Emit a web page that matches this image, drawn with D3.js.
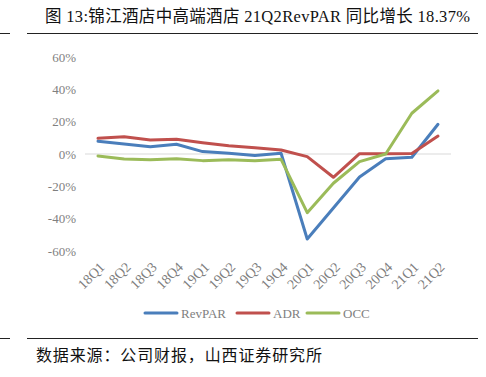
<!DOCTYPE html>
<html><head><meta charset="utf-8">
<script src="https://cdn.jsdelivr.net/npm/d3@7"></script>
<style>
html,body{margin:0;padding:0;background:#fff;}
svg{display:block;}
</style></head>
<body>
<svg id="c" width="486" height="377"></svg>
<script>
const categories = ["18Q1","18Q2","18Q3","18Q4","19Q1","19Q2","19Q3","19Q4","20Q1","20Q2","20Q3","20Q4","21Q1","21Q2"];
const revpar = [7.9, 6.2, 4.5, 6.0, 1.5, 0.4, -1.0, 0.5, -52.6, -33.4, -14.2, -3.0, -2.0, 18.37];
const adr = [9.7, 10.7, 8.7, 9.1, 7.0, 5.1, 3.9, 2.5, -1.6, -14.4, 0.2, 0.2, 0.3, 11.1];
const occ = [-1.2, -3.1, -3.5, -3.0, -4.1, -3.5, -4.1, -3.3, -36.3, -18.1, -4.7, 0.0, 25.2, 39.0];
const yTicks = [-60, -40, -20, 0, 20, 40, 60];
const seriesNames = ["RevPAR", "ADR", "OCC"];
const seriesColors = ["#4A7EBB", "#C0504D", "#9BBB59"];
const title = "图 13:锦江酒店中高端酒店 21Q2RevPAR 同比增长 18.37%";
const source = "数据来源：公司财报，山西证券研究所";

const svg = d3.select("#c");
const serif = "'Liberation Serif','Noto Sans CJK SC',serif";
const cjk = "'Noto Sans CJK SC','Liberation Serif',sans-serif";

// title
svg.append("text").attr("x", 45).attr("y", 22).attr("font-family", serif)
  .attr("font-size", 16.5).attr("fill", "#111")
  .attr("textLength", 425).attr("lengthAdjust", "spacing").text(title);
svg.append("line").attr("x1", 27).attr("x2", 478).attr("y1", 33.5).attr("y2", 33.5).attr("stroke", "#222").attr("stroke-width", 1);
svg.append("line").attr("x1", 0).attr("x2", 10).attr("y1", 33.5).attr("y2", 33.5).attr("stroke", "#222").attr("stroke-width", 1);
svg.append("line").attr("x1", 27).attr("x2", 478).attr("y1", 338.5).attr("y2", 338.5).attr("stroke", "#222").attr("stroke-width", 1);
svg.append("line").attr("x1", 0).attr("x2", 10).attr("y1", 338.5).attr("y2", 338.5).attr("stroke", "#222").attr("stroke-width", 1);
svg.append("text").attr("x", 36).attr("y", 361).attr("font-family", cjk)
  .attr("font-size", 16).attr("fill", "#111")
  .attr("textLength", 286).attr("lengthAdjust", "spacing").text(source);

const x = d3.scalePoint().domain(categories).range([98, 438]);
const y = d3.scaleLinear().domain([-60, 60]).range([251, 57]);

// y axis labels
const yAxis = d3.axisLeft(y).tickValues(yTicks).tickSize(0).tickPadding(0)
  .tickFormat(d => d + "%");
const ya = svg.append("g").attr("transform", "translate(76,0)").call(yAxis);
ya.select(".domain").remove();
ya.selectAll("text").attr("font-family", serif).attr("font-size", 13).attr("fill", "#7f7f7f");

// zero line
svg.append("line").attr("x1", 85).attr("x2", 451).attr("y1", y(0)).attr("y2", y(0))
  .attr("stroke", "#d9d9d9").attr("stroke-width", 1);

// x axis labels
const xAxis = d3.axisBottom(x).tickSize(0).tickPadding(0);
const xa = svg.append("g").attr("transform", "translate(0,262)").call(xAxis);
xa.select(".domain").remove();
xa.selectAll("text").attr("font-family", serif).attr("font-size", 14).attr("fill", "#7f7f7f")
  .attr("text-anchor", "end").attr("dy", 0).attr("y", 0)
  .attr("transform", "translate(7,6) rotate(-45)");

const data = [revpar, adr, occ];
const line = d3.line().x((d, i) => x(categories[i])).y(d => y(d));
data.forEach((s, k) => {
  svg.append("path").datum(s).attr("d", line).attr("fill", "none")
    .attr("stroke", seriesColors[k]).attr("stroke-width", 3)
    .attr("stroke-linejoin", "round").attr("stroke-linecap", "round");
});

// legend
const legX = [145, 237, 307];
seriesNames.forEach((n, k) => {
  svg.append("line").attr("x1", legX[k]).attr("x2", legX[k] + 32).attr("y1", 313).attr("y2", 313)
    .attr("stroke", seriesColors[k]).attr("stroke-width", 3).attr("stroke-linecap", "round");
  svg.append("text").attr("x", legX[k] + 36).attr("y", 317.5).attr("font-family", serif)
    .attr("font-size", 13).attr("fill", "#7f7f7f").text(n);
});
</script>
</body></html>
